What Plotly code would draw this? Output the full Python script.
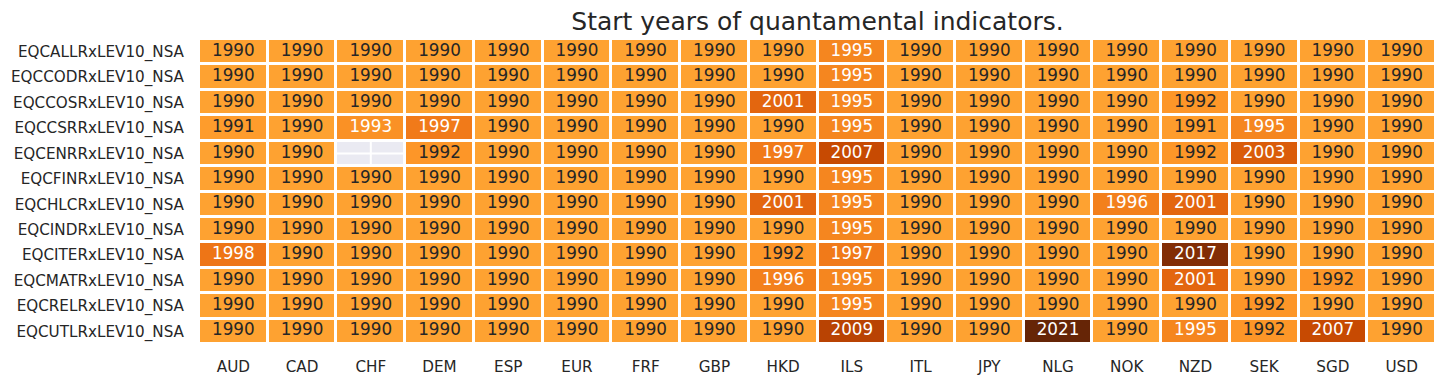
import math
import plotly.graph_objects as go

currencies = ["AUD", "CAD", "CHF", "DEM", "ESP", "EUR", "FRF", "GBP", "HKD",
              "ILS", "ITL", "JPY", "NLG", "NOK", "NZD", "SEK", "SGD", "USD"]

indicators = ["EQCALLRxLEV10_NSA", "EQCCODRxLEV10_NSA", "EQCCOSRxLEV10_NSA",
              "EQCCSRRxLEV10_NSA", "EQCENRRxLEV10_NSA", "EQCFINRxLEV10_NSA",
              "EQCHLCRxLEV10_NSA", "EQCINDRxLEV10_NSA", "EQCITERxLEV10_NSA",
              "EQCMATRxLEV10_NSA", "EQCRELRxLEV10_NSA", "EQCUTLRxLEV10_NSA"]

#            AUD   CAD   CHF   DEM   ESP   EUR   FRF   GBP   HKD   ILS   ITL   JPY   NLG   NOK   NZD   SEK   SGD   USD
eqcallr = [1990, 1990, 1990, 1990, 1990, 1990, 1990, 1990, 1990, 1995, 1990, 1990, 1990, 1990, 1990, 1990, 1990, 1990]
eqccodr = [1990, 1990, 1990, 1990, 1990, 1990, 1990, 1990, 1990, 1995, 1990, 1990, 1990, 1990, 1990, 1990, 1990, 1990]
eqccosr = [1990, 1990, 1990, 1990, 1990, 1990, 1990, 1990, 2001, 1995, 1990, 1990, 1990, 1990, 1992, 1990, 1990, 1990]
eqccsrr = [1991, 1990, 1993, 1997, 1990, 1990, 1990, 1990, 1990, 1995, 1990, 1990, 1990, 1990, 1991, 1995, 1990, 1990]
eqcenrr = [1990, 1990, None, 1992, 1990, 1990, 1990, 1990, 1997, 2007, 1990, 1990, 1990, 1990, 1992, 2003, 1990, 1990]
eqcfinr = [1990, 1990, 1990, 1990, 1990, 1990, 1990, 1990, 1990, 1995, 1990, 1990, 1990, 1990, 1990, 1990, 1990, 1990]
eqchlcr = [1990, 1990, 1990, 1990, 1990, 1990, 1990, 1990, 2001, 1995, 1990, 1990, 1990, 1996, 2001, 1990, 1990, 1990]
eqcindr = [1990, 1990, 1990, 1990, 1990, 1990, 1990, 1990, 1990, 1995, 1990, 1990, 1990, 1990, 1990, 1990, 1990, 1990]
eqciter = [1998, 1990, 1990, 1990, 1990, 1990, 1990, 1990, 1992, 1997, 1990, 1990, 1990, 1990, 2017, 1990, 1990, 1990]
eqcmatr = [1990, 1990, 1990, 1990, 1990, 1990, 1990, 1990, 1996, 1995, 1990, 1990, 1990, 1990, 2001, 1990, 1992, 1990]
eqcrelr = [1990, 1990, 1990, 1990, 1990, 1990, 1990, 1990, 1990, 1995, 1990, 1990, 1990, 1990, 1990, 1992, 1990, 1990]
eqcutlr = [1990, 1990, 1990, 1990, 1990, 1990, 1990, 1990, 1990, 2009, 1990, 1990, 2021, 1990, 1995, 1992, 2007, 1990]

start_years = [eqcallr, eqccodr, eqccosr, eqccsrr, eqcenrr, eqcfinr,
               eqchlcr, eqcindr, eqciter, eqcmatr, eqcrelr, eqcutlr]

# colour mapping (YlOrBr, recentred like seaborn's `center=`)
COLOR_LOW, COLOR_HIGH = 1962, 2021
YLORBR = [(255, 255, 229), (255, 247, 188), (254, 227, 145), (254, 196, 79),
          (254, 153, 41), (236, 112, 20), (204, 76, 2), (153, 52, 4), (102, 37, 6)]


def ylorbr(t):
    t = min(max(t, 0.0), 1.0) * (len(YLORBR) - 1)
    i = min(int(t), len(YLORBR) - 2)
    f = t - i
    a, b = YLORBR[i], YLORBR[i + 1]
    return tuple(a[k] + (b[k] - a[k]) * f for k in range(3))


def luminance(rgb):
    out = []
    for c in rgb:
        c = c / 255.0
        out.append(c / 12.92 if c <= 0.03928 else ((c + 0.055) / 1.055) ** 2.4)
    return 0.2126 * out[0] + 0.7152 * out[1] + 0.0722 * out[2]


colorscale = [[k / (len(YLORBR) - 1), "rgb(%d,%d,%d)" % c] for k, c in enumerate(YLORBR)]

xs = list(range(len(currencies)))
ys = list(range(len(indicators)))

z = [[(v if v is not None else float("nan")) for v in row] for row in start_years]
mask = [[(1 if v is None else None) for v in row] for row in start_years]

fig = go.Figure()
fig.add_trace(go.Heatmap(
    x=xs, y=ys, z=z, zmin=COLOR_LOW, zmax=COLOR_HIGH, colorscale=colorscale,
    showscale=False, xgap=3, ygap=3, hoverongaps=False,
))
fig.add_trace(go.Heatmap(
    x=xs, y=ys, z=mask, zmin=0, zmax=1,
    colorscale=[[0, "#EAEAF2"], [1, "#EAEAF2"]],
    showscale=False, xgap=3, ygap=3, hoverinfo="skip",
))

# white grid cross through missing cells (seaborn darkgrid look)
gx, gy = [], []
for i, row in enumerate(start_years):
    for j, v in enumerate(row):
        if v is None:
            gx += [j - 0.5, j + 0.5, None, j, j, None]
            gy += [i, i, None, i - 0.5, i + 0.5, None]
fig.add_trace(go.Scatter(x=gx, y=gy, mode="lines", line=dict(color="white", width=2),
                         hoverinfo="skip", showlegend=False))

tx, ty, tt, tc = [], [], [], []
for i, row in enumerate(start_years):
    for j, v in enumerate(row):
        if v is None:
            continue
        tx.append(j)
        ty.append(i)
        tt.append("%.0f" % v)
        lum = luminance(ylorbr((v - COLOR_LOW) / (COLOR_HIGH - COLOR_LOW)))
        tc.append("#262626" if lum > 0.408 else "white")
fig.add_trace(go.Scatter(x=tx, y=ty, text=tt, mode="text",
                         textfont=dict(family="DejaVu Sans", size=16.8, color=tc),
                         hoverinfo="skip", showlegend=False))

# page body has an 8px margin; size the figure so the plot lands where the reference has it
W, H = 1438, 375
fig.update_layout(
    width=W, height=H,
    margin=dict(l=191, r=10, t=31, b=39),
    paper_bgcolor="white", plot_bgcolor="white",
    font=dict(family="DejaVu Sans", color="#262626", size=15),
    showlegend=False,
    title=dict(text="Start years of quantamental indicators.", x=809.5 / W, xanchor="center",
               y=1 - 13 / H, yanchor="middle", yref="container",
               font=dict(size=25, color="#262626", family="DejaVu Sans")),
    xaxis=dict(tickmode="array", tickvals=xs, ticktext=currencies, range=[-0.5, len(xs) - 0.5],
               showgrid=False, zeroline=False, showline=False, ticks="", ticklabelstandoff=12,
               automargin=False, tickfont=dict(size=15.2, color="#262626")),
    yaxis=dict(tickmode="array", tickvals=ys, ticktext=indicators, range=[len(ys) - 0.5, -0.5],
               showgrid=False, zeroline=False, showline=False, ticks="", ticklabelstandoff=14,
               automargin=False, tickfont=dict(size=15.2, color="#262626")),
)

fig.write_html("out.html")
